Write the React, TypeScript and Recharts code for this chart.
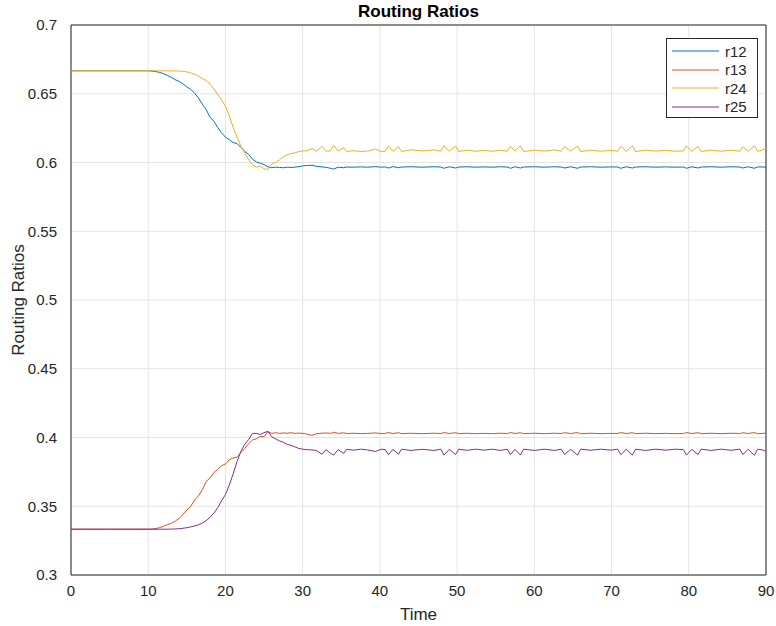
import React from 'react';
import {
  LineChart,
  Line,
  XAxis,
  YAxis,
  CartesianGrid,
  Legend,
  ReferenceArea,
} from 'recharts';

// sample times (irregular: dense where the curves move, around the spikes later on)
const time = [
  0, 5, 10, 10.5, 11, 11.5, 12, 12.5, 13, 13.5, 14, 14.5, 15, 15.5, 16, 16.5, 17, 17.5, 18, 18.5,
  19, 19.5, 20, 20.5, 21, 21.5, 22, 22.5, 23, 23.5, 24, 24.5, 25, 25.5, 26, 26.5, 27, 27.5, 28,
  28.5, 29, 29.5, 30,
  30.5, 31.2, 31.8, 32.5, 33.0, 33.6, 34.0, 34.6, 35.3, 35.7,
  36.6, 37.5, 38.4, 39.4, 40.2, 40.7, 41.1, 41.7, 42.4, 42.8,
  44.0, 45.5, 47.0, 47.9, 48.3, 49.0, 49.8, 50.2, 51.3, 52.4,
  53.5, 54.6, 55.6, 56.5, 56.9, 57.5, 58.2, 58.6, 60.0, 61.3,
  62.6, 63.5, 63.9, 64.7, 65.6, 66.0, 67.3, 68.6, 69.9, 70.8,
  71.2, 71.9, 72.7, 73.1, 74.4, 75.7, 77.0, 78.3, 79.3, 79.7,
  80.4, 81.2, 81.6, 82.9, 84.2, 85.5, 86.6, 87.0, 87.7, 88.5,
  88.9, 89.5, 90.0,
];

const r12 = [
  0.6667, 0.6667, 0.6667, 0.6665, 0.6661, 0.6655, 0.6646, 0.6632, 0.662, 0.6602, 0.659, 0.6572,
  0.655, 0.6532, 0.6505, 0.647, 0.6425, 0.6385, 0.633, 0.63, 0.6255, 0.6215, 0.6185, 0.6165,
  0.6145, 0.6138, 0.611, 0.608, 0.606, 0.6025, 0.6004, 0.5995, 0.5985, 0.5968, 0.5962, 0.5966,
  0.5964, 0.5962, 0.5966, 0.5964, 0.5966, 0.597, 0.5975,
  0.5978, 0.598, 0.5972, 0.5968, 0.5965, 0.5958, 0.5952, 0.5966, 0.5962, 0.5967,
  0.5966, 0.5968, 0.5966, 0.597, 0.5966, 0.5968, 0.596, 0.597, 0.5962, 0.5967,
  0.5969, 0.5966, 0.5969, 0.5967, 0.5958, 0.5969, 0.596, 0.5967, 0.5969, 0.5966,
  0.5968, 0.5966, 0.5969, 0.5967, 0.5958, 0.5969, 0.596, 0.5967, 0.5969, 0.5966,
  0.5969, 0.5967, 0.596, 0.5969, 0.5958, 0.5967, 0.5969, 0.5966, 0.5968, 0.5967,
  0.5958, 0.5969, 0.596, 0.5967, 0.5969, 0.5966, 0.5968, 0.5966, 0.5967, 0.5958,
  0.5969, 0.596, 0.5967, 0.5969, 0.5966, 0.5969, 0.5967, 0.596, 0.5969, 0.5958,
  0.5967, 0.5968, 0.5965,
];

const r13 = [
  0.3333, 0.3333, 0.3333, 0.3334, 0.3338, 0.3345, 0.3355, 0.3368, 0.3375, 0.3392, 0.3412, 0.344,
  0.3472, 0.35, 0.3545, 0.3575, 0.362, 0.368, 0.3705, 0.3745, 0.3768, 0.3795, 0.3808, 0.3838,
  0.3852, 0.3856, 0.389, 0.392, 0.3955, 0.3982, 0.399, 0.4008, 0.4005, 0.4042, 0.403, 0.4035,
  0.403, 0.4033, 0.4031, 0.4035, 0.403, 0.4032, 0.403,
  0.4025, 0.4015, 0.4028, 0.4031, 0.4033, 0.403, 0.4038, 0.403, 0.4034, 0.4029,
  0.4031, 0.4028, 0.403, 0.4033, 0.4029, 0.403, 0.4036, 0.4029, 0.4035, 0.4028,
  0.4031, 0.4028, 0.4031, 0.4029, 0.4036, 0.4029, 0.4035, 0.4028, 0.4031, 0.4028,
  0.403, 0.4028, 0.4031, 0.4029, 0.4036, 0.4029, 0.4035, 0.4028, 0.4031, 0.4028,
  0.4031, 0.4029, 0.4035, 0.4029, 0.4036, 0.4028, 0.4031, 0.4028, 0.403, 0.4029,
  0.4036, 0.4029, 0.4035, 0.4028, 0.4031, 0.4028, 0.403, 0.4028, 0.4029, 0.4036,
  0.4029, 0.4035, 0.4028, 0.4031, 0.4028, 0.4031, 0.4029, 0.4035, 0.4029, 0.4036,
  0.4028, 0.403, 0.4032,
];

const r24 = [
  0.6667, 0.6667, 0.6667, 0.6667, 0.6667, 0.6667, 0.6667, 0.6667, 0.6666, 0.6666, 0.6665, 0.6663,
  0.6659, 0.6652, 0.6642, 0.6628, 0.6612, 0.6595, 0.657, 0.6535, 0.6495, 0.6455, 0.641, 0.634,
  0.6255, 0.6185, 0.612, 0.6068, 0.602, 0.5982, 0.5966, 0.5975, 0.5955, 0.5948, 0.5988, 0.6,
  0.602, 0.6042, 0.6056, 0.6066, 0.607, 0.608, 0.6084,
  0.6085, 0.6102, 0.6082, 0.6118, 0.6083, 0.6084, 0.6125, 0.6082, 0.6108, 0.608,
  0.6086, 0.608, 0.6083, 0.6098, 0.608, 0.6082, 0.6118, 0.6082, 0.6115, 0.608,
  0.6092, 0.6084, 0.6092, 0.6082, 0.6122, 0.6082, 0.612, 0.608, 0.609, 0.6082,
  0.6088, 0.6082, 0.609, 0.6082, 0.6118, 0.6082, 0.6122, 0.608, 0.609, 0.6083,
  0.6092, 0.6082, 0.6115, 0.6082, 0.612, 0.608, 0.609, 0.6082, 0.6088, 0.6082,
  0.6118, 0.6082, 0.6122, 0.608, 0.609, 0.6083, 0.6088, 0.6082, 0.6084, 0.612,
  0.6082, 0.6118, 0.608, 0.609, 0.6082, 0.609, 0.6082, 0.6115, 0.6082, 0.6122,
  0.6082, 0.609, 0.6105,
];

const r25 = [
  0.3333, 0.3333, 0.3333, 0.3333, 0.3333, 0.3333, 0.3333, 0.3333, 0.3334, 0.3335, 0.3337, 0.334,
  0.3344, 0.335, 0.3357, 0.3365, 0.3378, 0.3395, 0.342, 0.345, 0.349, 0.354, 0.3585, 0.3655,
  0.3735, 0.3825, 0.39, 0.395, 0.3985, 0.403, 0.403, 0.4022, 0.4035, 0.4045, 0.4005, 0.399,
  0.3975, 0.3965, 0.395, 0.3943, 0.3932, 0.392, 0.3915,
  0.3912, 0.391, 0.3905, 0.3878, 0.3912, 0.3885, 0.3872, 0.3912, 0.3885, 0.3914,
  0.3908, 0.3915, 0.391, 0.3898, 0.3915, 0.3912, 0.3875, 0.3914, 0.3878, 0.3915,
  0.3906, 0.3914, 0.3906, 0.3915, 0.3872, 0.3914, 0.3876, 0.3915, 0.3907, 0.3915,
  0.3908, 0.3915, 0.3906, 0.3915, 0.3875, 0.3914, 0.3872, 0.3915, 0.3906, 0.3915,
  0.3906, 0.3915, 0.3876, 0.3914, 0.3872, 0.3915, 0.3907, 0.3915, 0.3908, 0.3915,
  0.3875, 0.3914, 0.3872, 0.3915, 0.3906, 0.3915, 0.3908, 0.3915, 0.3912, 0.3872,
  0.3914, 0.3875, 0.3915, 0.3906, 0.3915, 0.3907, 0.3915, 0.3876, 0.3914, 0.387,
  0.3915, 0.391, 0.39,
];

const xTicks = [0, 10, 20, 30, 40, 50, 60, 70, 80, 90];
const yTicks = [0.3, 0.35, 0.4, 0.45, 0.5, 0.55, 0.6, 0.65, 0.7];

const series = [
  { key: 'r12', color: '#0072BD' },
  { key: 'r13', color: '#D95319' },
  { key: 'r24', color: '#EDB120' },
  { key: 'r25', color: '#7E2F8E' },
];

const rows = time.map((t, i) => ({ t, r12: r12[i], r13: r13[i], r24: r24[i], r25: r25[i] }));

const FONT = '"Liberation Sans", Arial, Helvetica, sans-serif';
const INK = '#262626';

const renderLegend = (props: any) => (
  <div
    style={{
      boxSizing: 'border-box',
      width: 92,
      height: 80,
      border: `1px solid ${INK}`,
      background: '#fff',
      padding: '3px 0 0 5px',
      fontFamily: FONT,
    }}
  >
    {(props.payload || []).map((entry: any) => (
      <div key={entry.value} style={{ display: 'flex', alignItems: 'center', height: 18.5 }}>
        <svg width={47} height={4} style={{ display: 'block' }}>
          <line x1={0} y1={2} x2={47} y2={2} stroke={entry.color} strokeWidth={1} />
        </svg>
        <span style={{ marginLeft: 6, fontSize: 15, color: INK }}>{entry.value}</span>
      </div>
    ))}
  </div>
);

export default function App() {
  return (
    <div style={{ position: 'absolute', left: 0, top: 0, width: 776, height: 626, background: '#fff' }}>
      <div
        style={{
          position: 'absolute',
          left: 71,
          width: 695,
          top: 2,
          textAlign: 'center',
          fontFamily: FONT,
          fontWeight: 'bold',
          fontSize: 17,
          color: '#000',
        }}
      >
        Routing Ratios
      </div>
      <LineChart
        width={776}
        height={626}
        data={rows}
        margin={{ top: 25, right: 10, bottom: 0, left: 0 }}
        style={{ fontFamily: FONT }}
      >
        <CartesianGrid stroke="#e4e4e4" strokeWidth={1} />
        <XAxis
          dataKey="t"
          type="number"
          domain={[0, 90]}
          ticks={xTicks}
          height={51}
          axisLine={false}
          tickLine={false}
          tickMargin={4}
          tick={{ fill: INK, fontSize: 15 }}
          label={{ value: 'Time', position: 'insideBottom', offset: 6, fill: INK, fontSize: 17 }}
        />
        <YAxis
          type="number"
          domain={[0.3, 0.7]}
          ticks={yTicks}
          width={71}
          axisLine={false}
          tickLine={false}
          tickMargin={8}
          tick={{ fill: INK, fontSize: 15 }}
          label={{
            value: 'Routing Ratios',
            angle: -90,
            position: 'insideLeft',
            offset: 18,
            fill: INK,
            fontSize: 17,
            style: { textAnchor: 'middle' },
          }}
        />
        {series.map((s) => (
          <Line
            key={s.key}
            dataKey={s.key}
            name={s.key}
            type="linear"
            stroke={s.color}
            strokeWidth={1}
            dot={false}
            activeDot={false}
            isAnimationActive={false}
          />
        ))}
        <ReferenceArea
          x1={0}
          x2={90}
          y1={0.3}
          y2={0.7}
          fill="none"
          stroke={INK}
          strokeOpacity={1}
          fillOpacity={0}
        />
        <Legend
          layout="vertical"
          align="center"
          verticalAlign="middle"
          content={renderLegend}
          wrapperStyle={{ top: 38, left: 666, width: 92, height: 80 }}
        />
      </LineChart>
    </div>
  );
}
